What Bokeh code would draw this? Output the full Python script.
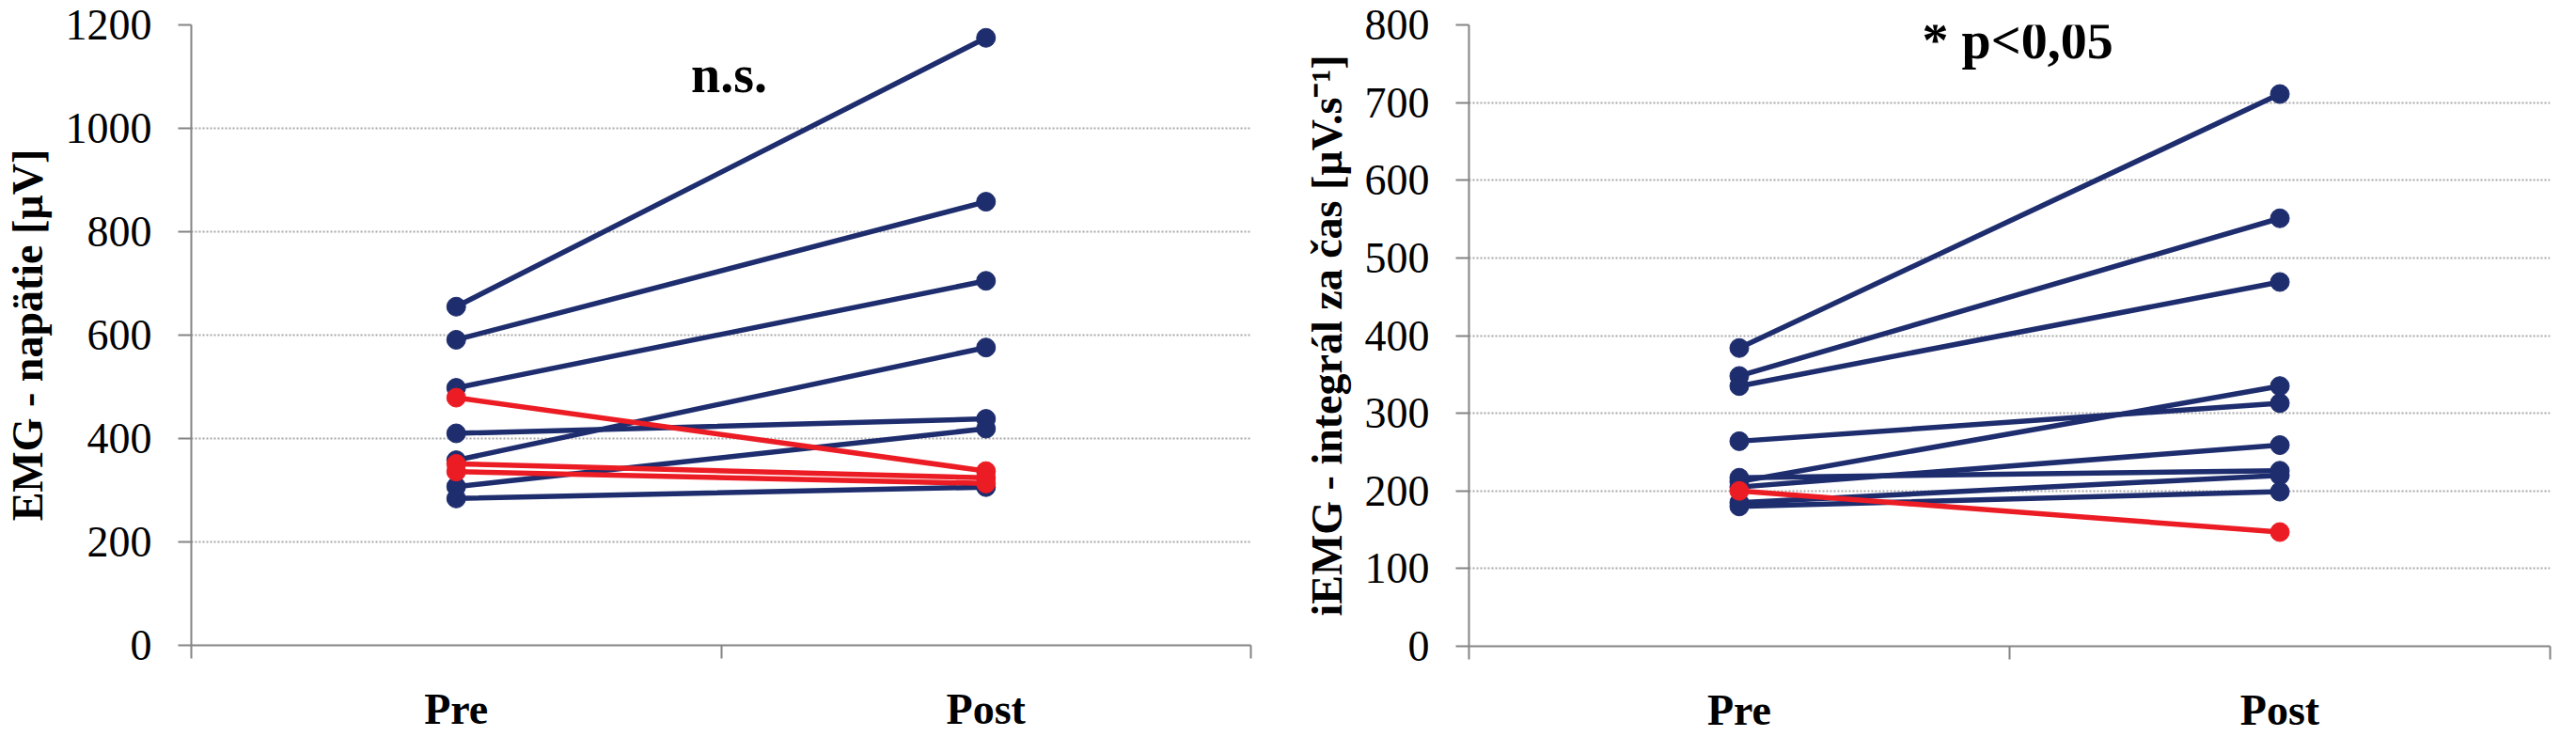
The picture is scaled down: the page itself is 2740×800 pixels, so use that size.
from bokeh.plotting import figure
from bokeh.layouts import row
from bokeh.models import FixedTicker, Label, Range1d
from bokeh.embed import file_html
from bokeh.resources import INLINE

# ---------------- data ----------------
categories = ["Pre", "Post"]

# Left panel: EMG - napätie [µV]
emg_pre_blue = [655, 591, 498, 410, 358, 307, 284]
emg_post_blue = [1175, 858, 705, 438, 576, 419, 306]
emg_pre_red = [479, 351, 336]
emg_post_red = [337, 324, 313]
emg_ticks = [0, 200, 400, 600, 800, 1000, 1200]

# Right panel: iEMG - integrál za čas [µV.s-1]
iemg_pre_blue = [384, 348, 335, 264, 212, 217, 205, 185, 180]
iemg_post_blue = [711, 551, 469, 313, 335, 226, 259, 220, 199]
iemg_pre_red = [200]
iemg_post_red = [147]
iemg_ticks = [0, 100, 200, 300, 400, 500, 600, 700, 800]

NAVY = "#1E2D6E"
RED = "#EC1C24"
AXIS = "#848484"
GRID = "#a8a8a8"
SERIF = "Liberation Serif"


def panel(pre_b, post_b, pre_r, post_r, ticks, ylabel, note, note_y,
          fw, fh, bl, br, bt, bb):
    n_cat = len(categories)
    cat_x = [i + 0.5 for i in range(n_cat)]
    p = figure(frame_width=fw, frame_height=fh,
               x_range=Range1d(0, n_cat), y_range=Range1d(ticks[0], ticks[-1]),
               output_backend="svg", toolbar_location=None,
               min_border_left=bl, min_border_right=br,
               min_border_top=bt, min_border_bottom=bb)
    p.outline_line_color = None
    p.background_fill_color = "white"
    p.border_fill_color = "white"

    # x axis: labels at category centres, ticks at category boundaries
    xa = p.xaxis[0]
    xa.ticker = FixedTicker(ticks=cat_x, minor_ticks=list(range(n_cat + 1)))
    xa.major_label_overrides = {x: c for x, c in zip(cat_x, categories)}
    xa.major_tick_out = 0
    xa.major_tick_in = 0
    xa.minor_tick_out = 14
    xa.minor_tick_in = 0
    xa.minor_tick_line_color = AXIS
    xa.minor_tick_line_width = 2
    xa.axis_line_color = AXIS
    xa.axis_line_width = 2
    xa.major_label_text_font = SERIF
    xa.major_label_text_font_style = "bold"
    xa.major_label_text_font_size = "46px"
    xa.major_label_text_color = "black"
    xa.major_label_standoff = 28

    ya = p.yaxis[0]
    ya.ticker = FixedTicker(ticks=ticks, minor_ticks=[])
    ya.major_tick_out = 14
    ya.major_tick_in = 0
    ya.major_tick_line_color = AXIS
    ya.major_tick_line_width = 2
    ya.axis_line_color = AXIS
    ya.axis_line_width = 2
    ya.major_label_text_font = SERIF
    ya.major_label_text_font_size = "46px"
    ya.major_label_text_color = "black"
    ya.major_label_standoff = 28
    ya.axis_label = ylabel
    ya.axis_label_text_font = SERIF
    ya.axis_label_text_font_style = "bold"
    ya.axis_label_text_font_size = "46px"
    ya.axis_label_text_color = "black"
    ya.axis_label_standoff = 12

    p.xgrid.grid_line_color = None
    p.ygrid.ticker = FixedTicker(ticks=ticks, minor_ticks=[])
    p.ygrid.grid_line_color = GRID
    p.ygrid.grid_line_width = 2
    p.ygrid.grid_line_dash = "2 2"

    # blue lines first, red on top
    for pre, post, col in ((pre_b, post_b, NAVY), (pre_r, post_r, RED)):
        xs = [cat_x for _ in pre]
        ys = [[a, b] for a, b in zip(pre, post)]
        p.multi_line(xs, ys, line_color=col, line_width=5.5, line_cap="round")
        p.scatter([cat_x[0]] * len(pre), pre, size=20, fill_color=col, line_color=col)
        p.scatter([cat_x[1]] * len(post), post, size=20, fill_color=col, line_color=col)

    p.add_layout(Label(x=1.015, y=note_y, text=note, text_align="center",
                       text_baseline="alphabetic", text_font=SERIF,
                       text_font_style="bold", text_font_size="56px",
                       text_color="black"))
    return p


left = panel(emg_pre_blue, emg_post_blue, emg_pre_red, emg_post_red, emg_ticks,
             "EMG - napätie [µV]", "n.s.", 1104,
             1127, 660, 198, 7, 21, 99)
right = panel(iemg_pre_blue, iemg_post_blue, iemg_pre_red, iemg_post_red, iemg_ticks,
              "iEMG - integrál za čas [µV.s\u207b\u00b9]", "* p<0,05", 780,
              1150, 661, 225, 15, 26, 93)

layout = row(left, right)
open("out.html", "w").write(file_html(layout, INLINE))
